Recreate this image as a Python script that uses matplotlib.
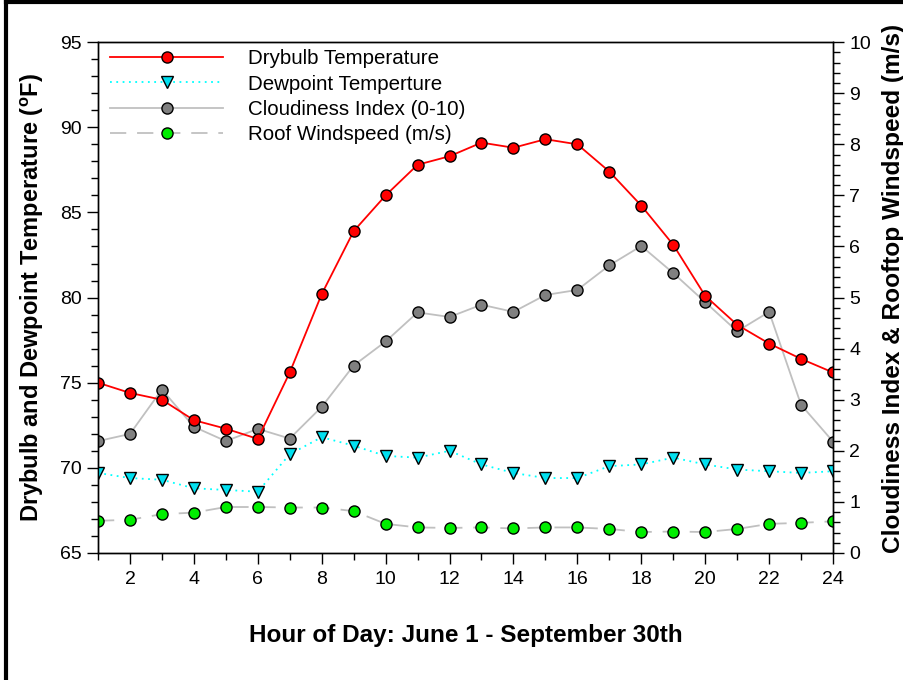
import matplotlib
matplotlib.use("Agg")
import matplotlib.pyplot as plt
from matplotlib.lines import Line2D
from matplotlib.ticker import MultipleLocator

plt.rcParams['font.family'] = ['Liberation Sans', 'DejaVu Sans']
plt.rcParams['mathtext.fontset'] = 'custom'
plt.rcParams['mathtext.rm'] = 'Liberation Sans'
plt.rcParams['mathtext.bf'] = 'Liberation Sans:bold'

# hourly averages, June 1 - September 30
hours = list(range(1, 25))
drybulb = [75.0, 74.4, 74.0, 72.8, 72.3, 71.7, 75.6, 80.2, 83.9, 86.0, 87.8, 88.3,
           89.1, 88.8, 89.3, 89.0, 87.4, 85.4, 83.1, 80.1, 78.4, 77.3, 76.4, 75.6]
dewpoint = [69.7, 69.4, 69.3, 68.8, 68.7, 68.6, 70.8, 71.8, 71.3, 70.7, 70.6, 71.0,
            70.2, 69.7, 69.4, 69.4, 70.1, 70.2, 70.6, 70.2, 69.9, 69.8, 69.7, 69.8]
cloudiness = [2.19, 2.33, 3.20, 2.47, 2.19, 2.43, 2.24, 2.86, 3.67, 4.14, 4.71, 4.62,
              4.86, 4.72, 5.05, 5.15, 5.63, 6.01, 5.48, 4.91, 4.34, 4.72, 2.90, 2.18]
windspeed = [0.63, 0.65, 0.76, 0.79, 0.90, 0.90, 0.89, 0.89, 0.82, 0.57, 0.50, 0.49,
             0.50, 0.48, 0.50, 0.50, 0.47, 0.41, 0.42, 0.41, 0.47, 0.57, 0.59, 0.62]

fig = plt.figure(figsize=(9.04, 6.8), dpi=100)
ax = fig.add_axes([0.1084, 0.1868, 0.8131, 0.7512])
ax2 = ax.twinx()

mk = dict(markersize=8, markeredgecolor='black', markeredgewidth=1.0)

# right axis series first so the temperature lines sit on top
l3, = ax2.plot(hours, cloudiness, color='#c0c0c0', lw=1.3, marker='o',
               markerfacecolor='#808080', label='Cloudiness Index (0-10)', **mk)
l4, = ax2.plot(hours, windspeed, color='#c0c0c0', lw=1.3, dashes=(9, 6), marker='o',
               markerfacecolor='#00ee00', label='Roof Windspeed (m/s)', **mk)
ax2.set_zorder(1)
ax.set_zorder(2)
ax.patch.set_visible(False)

l1, = ax.plot(hours, drybulb, color='#ff0000', lw=1.3, marker='o',
              markerfacecolor='#ff0000', label='Drybulb Temperature', **mk)
l2, = ax.plot(hours, dewpoint, color='#00ffff', lw=1.3, linestyle=(0, (1, 2.5)),
              marker='v', markerfacecolor='#00e0f0', label='Dewpoint Temperture', **mk)

ax.set_xlim(1, 24)
ax.set_ylim(65, 95)
ax2.set_ylim(0, 10)

ax.xaxis.set_major_locator(MultipleLocator(2))
ax.xaxis.set_minor_locator(MultipleLocator(1))
ax.yaxis.set_major_locator(MultipleLocator(5))
ax.yaxis.set_minor_locator(MultipleLocator(1))
ax2.yaxis.set_major_locator(MultipleLocator(1))
ax2.yaxis.set_minor_locator(MultipleLocator(0.2))

for a in (ax, ax2):
    a.tick_params(which='major', direction='out', length=8, width=1, labelsize=14)
    a.tick_params(which='minor', direction='out', length=5, width=1)
    for s in a.spines.values():
        s.set_linewidth(1)
ax.tick_params(axis='x', pad=5)

ax.set_xlabel('Hour of Day: June 1 - September 30th', fontsize=17.5,
              fontweight='bold', labelpad=26)
ax.set_ylabel(r'Drybulb and Dewpoint Temperature ($^\mathbf{o}$F)', fontsize=17,
              fontweight='bold', labelpad=10)
ax2.set_ylabel('Cloudiness Index & Rooftop Windspeed (m/s)', fontsize=17.6,
               fontweight='bold')
ax2.yaxis.set_label_coords(1.066, 0.517)

ax.legend(handles=[l1, l2, l3, l4], loc='upper left', frameon=False, fontsize=14.8,
          handlelength=5.5, handletextpad=1.2, labelspacing=0.3,
          bbox_to_anchor=(-0.006, 1.018), borderaxespad=0.4)

# frame around the figure (only top and left edges visible)
fig.add_artist(Line2D([6 / 904, 6 / 904], [0, 1 - 2 / 680], transform=fig.transFigure,
                      color='black', lw=3))
fig.add_artist(Line2D([6 / 904, 1], [1 - 2 / 680, 1 - 2 / 680], transform=fig.transFigure,
                      color='black', lw=3))

fig.savefig('out.png', dpi=100)
